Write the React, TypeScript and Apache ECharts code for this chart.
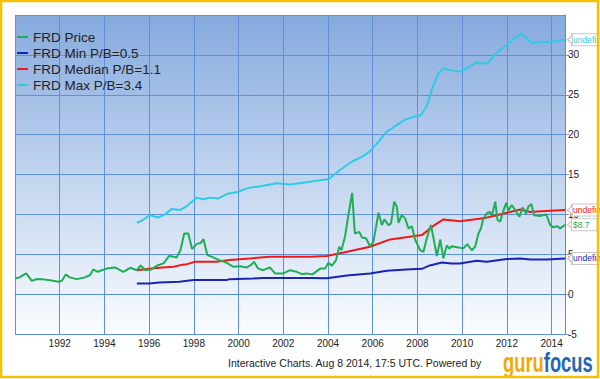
import React, { useEffect, useRef } from "react";
import * as echarts from "echarts";

// ---- data (decimal years, values in $) ----
const priceYears = [
  1990.0, 1990.2, 1990.5, 1990.75, 1991.0, 1991.27, 1991.57, 1991.94, 1992.1, 1992.27, 1992.45, 1992.76,
  1993.13, 1993.36, 1993.5, 1993.7, 1993.88, 1994.1, 1994.47, 1994.85, 1995.15, 1995.45, 1995.62, 1995.82,
  1996.1, 1996.34, 1996.64, 1996.9, 1997.23, 1997.4, 1997.57, 1997.75, 1997.92, 1998.13, 1998.3, 1998.43,
  1998.6, 1998.87, 1999.14, 1999.47, 1999.77, 2000.07, 2000.37, 2000.55, 2000.69, 2000.88, 2001.1, 2001.4,
  2001.63, 2002.0, 2002.3, 2002.6, 2002.83, 2003.05, 2003.3, 2003.65, 2003.87, 2004.02, 2004.17, 2004.36,
  2004.5, 2004.6, 2004.76, 2004.9, 2005.08, 2005.2, 2005.4, 2005.52, 2005.7, 2005.88, 2006.03, 2006.26,
  2006.41, 2006.52, 2006.7, 2006.82, 2006.96, 2007.08, 2007.15, 2007.3, 2007.45, 2007.6, 2007.75, 2007.9,
  2008.12, 2008.27, 2008.4, 2008.6, 2008.72, 2008.87, 2009.02, 2009.16, 2009.31, 2009.43, 2009.53, 2009.84,
  2010.05, 2010.23, 2010.43, 2010.58, 2010.73, 2010.84, 2010.93, 2011.04, 2011.14, 2011.25, 2011.33, 2011.48,
  2011.58, 2011.7, 2011.85, 2011.97, 2012.07, 2012.22, 2012.37, 2012.56, 2012.71, 2012.86, 2012.96, 2013.09,
  2013.22, 2013.49, 2013.76, 2013.94, 2014.09, 2014.24, 2014.39, 2014.6,
];
const priceValues = [
  1.97, 2.1, 2.6, 1.67, 1.9, 1.85, 1.75, 1.55, 1.67, 2.47, 2.1, 1.88,
  2.1, 2.4, 3.1, 2.8, 3.0, 3.2, 3.35, 2.8, 3.3, 3.0, 3.6, 3.0,
  3.1, 3.55, 3.85, 4.8, 4.6, 5.5, 7.6, 7.6, 5.65, 6.3, 6.4, 6.9,
  4.9, 4.6, 4.27, 3.93, 3.43, 3.5, 3.35, 3.64, 4.05, 3.2, 3.0, 3.35,
  2.6, 2.6, 3.0, 2.8, 2.5, 2.6, 2.47, 3.2, 3.2, 3.93, 3.55, 4.27,
  5.94, 5.5, 7.2, 9.7, 12.7, 7.6, 7.8, 7.1, 7.0, 6.0, 6.56, 10.2,
  8.66, 9.37, 8.66, 8.87, 11.6, 10.96, 8.95, 9.9, 9.5, 8.24, 8.5, 6.8,
  5.5, 5.3, 6.8, 8.66, 7.0, 4.77, 6.86, 4.5, 6.1, 5.7, 6.0, 5.86,
  5.73, 6.27, 5.5, 5.94, 7.6, 8.24, 9.3, 9.9, 10.2, 10.3, 9.8, 11.6,
  9.3, 9.07, 10.5, 11.45, 10.5, 11.17, 10.54, 9.7, 10.88, 10.1, 10.96, 11.3,
  9.9, 9.8, 10.0, 8.66, 8.37, 8.53, 8.24, 8.7,
];

const minYears = [
  1995.45, 1996.0, 1996.45, 1997.35, 1997.98, 1999.45, 1999.6, 2000.65, 2001.1, 2003.2, 2003.95, 2004.84,
  2005.88, 2006.63, 2007.5, 2008.2, 2008.55, 2009.1, 2009.5, 2009.9, 2010.65, 2011.1, 2012.0, 2012.6,
  2013.05, 2013.8, 2014.6,
];
const minValues = [
  1.34, 1.34, 1.47, 1.55, 1.76, 1.76, 1.88, 1.97, 2.02, 2.02, 2.0, 2.34,
  2.6, 2.92, 3.1, 3.17, 3.6, 3.97, 3.85, 3.85, 4.18, 4.05, 4.39, 4.48,
  4.35, 4.35, 4.48,
];

const medianYears = [
  1995.45, 1996.0, 1996.6, 1997.1, 1997.4, 1997.7, 1998.05, 1999.0, 1999.6, 2000.5, 2001.4, 2003.2,
  2003.95, 2004.7, 2005.88, 2006.78, 2008.2, 2008.7, 2009.16, 2009.9, 2010.5, 2010.95, 2011.55, 2012.0,
  2012.6, 2013.05, 2013.5, 2014.6,
];
const medianValues = [
  3.0, 3.17, 3.35, 3.43, 3.64, 3.76, 4.05, 4.05, 4.27, 4.48, 4.68, 4.68,
  4.77, 5.23, 5.94, 6.86, 7.4, 8.53, 9.37, 9.15, 9.37, 9.5, 9.9, 10.2,
  10.6, 10.3, 10.4, 10.54,
];

const maxYears = [
  1995.45, 1995.67, 1996.04, 1996.41, 1996.71, 1997.0, 1997.38, 1997.65, 1998.13, 1998.42, 1998.72, 1999.1,
  1999.47, 1999.99, 2000.37, 2001.1, 2001.7, 2002.3, 2003.2, 2003.4, 2004.02, 2004.24, 2004.54, 2005.06,
  2005.58, 2005.88, 2006.25, 2006.63, 2007.07, 2007.45, 2007.82, 2008.17, 2008.42, 2008.64, 2008.94, 2009.16,
  2009.6, 2009.9, 2010.27, 2010.64, 2010.87, 2011.16, 2011.48, 2011.85, 2012.22, 2012.64, 2013.14, 2013.41,
  2013.71, 2014.01, 2014.38, 2014.6,
];
const maxValues = [
  8.95, 9.2, 9.9, 9.6, 10.0, 10.66, 10.54, 10.96, 12.1, 11.9, 12.1, 12.0,
  12.55, 12.84, 13.26, 13.6, 13.9, 13.76, 14.1, 14.2, 14.4, 14.9, 15.56, 16.6,
  17.3, 17.94, 19.1, 20.37, 21.2, 21.9, 22.2, 22.5, 23.6, 25.6, 27.7, 28.3,
  28.0, 27.9, 28.4, 29.1, 28.9, 29.0, 30.1, 30.95, 31.8, 32.7, 31.45, 31.66,
  31.6, 31.66, 31.8, 31.9,
];

const seriesNames = ["FRD Price", "FRD Min P/B=0.5", "FRD Median P/B=1.1", "FRD Max P/B=3.4"];
const endLabelTexts = ["$8.7", "undefined", "undefined", "undefined"];
const footerText = "Interactive Charts. Aug 8 2014, 17:5 UTC. Powered by";

const colors = ["#1fae55", "#1a25b4", "#f21818", "#2ecbe6"];
const FONT = "'Liberation Sans', Arial, sans-serif";

const zip = (xs: number[], ys: number[]) => xs.map((x, i) => [x, ys[i]]);

export default function App() {
  const ref = useRef<HTMLDivElement>(null);
  useEffect(() => {
    const chart = echarts.init(ref.current!, undefined, { renderer: "svg" });
    const datasets = [
      zip(priceYears, priceValues),
      zip(minYears, minValues),
      zip(medianYears, medianValues),
      zip(maxYears, maxValues),
    ];
    chart.setOption({
      animation: false,
      textStyle: { fontFamily: FONT },
      grid: {
        left: 15,
        right: 35,
        top: 15,
        bottom: 45,
        show: true,
        borderWidth: 0,
        backgroundColor: new echarts.graphic.LinearGradient(0, 0, 0, 1, [
          { offset: 0, color: "#86aade" },
          { offset: 1, color: "#fbfdff" },
        ]),
      },
      legend: {
        orient: "vertical",
        left: 17,
        top: 29,
        padding: 0,
        itemGap: 0,
        itemWidth: 11,
        itemHeight: 2,
        icon: "rect",
        data: seriesNames,
        textStyle: { fontFamily: FONT, fontSize: 13.5, color: "#222", lineHeight: 16 },
      },
      xAxis: {
        type: "value",
        min: 1990,
        max: 2014.6,
        interval: 2,
        axisLine: { show: true, lineStyle: { color: "#5a8bd6", width: 1 } },
        axisTick: { show: false },
        axisLabel: {
          showMinLabel: false,
          showMaxLabel: false,
          fontSize: 10,
          color: "#222",
          margin: 4,
          formatter: (v: number) => String(Math.round(v)),
        },
        splitLine: { show: true, lineStyle: { color: "#5f90da", width: 1 } },
      },
      yAxis: {
        type: "value",
        position: "right",
        min: -5,
        max: 35,
        interval: 5,
        axisLine: { show: true, lineStyle: { color: "#5a8bd6", width: 1 } },
        axisTick: { show: true, length: 4, lineStyle: { color: "#7f96c0" } },
        axisLabel: { showMaxLabel: false, fontSize: 10, color: "#222", margin: 3 },
        splitLine: { show: true, lineStyle: { color: "#5f90da", width: 1 } },
      },
      series: seriesNames.map((name, i) => {
        const d = datasets[i];
        const last = d[d.length - 1];
        return {
          name,
          type: "line",
          data: d,
          symbol: "none",
          color: colors[i],
          lineStyle: { width: 2, color: colors[i] },
          z: 5 - i,
          endLabel: {
            show: true,
            formatter: endLabelTexts[i],
            color: colors[i],
            fontSize: 8.5,
            fontFamily: FONT,
            backgroundColor: "#fff",
            borderColor: "#c8c8c8",
            borderWidth: 1,
            padding: [1, 7, 1, 1],
            distance: 7,
          },
          markPoint: {
            silent: true,
            symbol: "triangle",
            symbolSize: [9, 5],
            symbolRotate: 90,
            symbolOffset: [5, 0],
            itemStyle: { color: "#fff", borderColor: "#bdbdbd", borderWidth: 1 },
            label: { show: false },
            data: [{ coord: last }],
          },
        };
      }),
      graphic: [
        {
          type: "text",
          left: 228,
          top: 357,
          style: { text: footerText, fontSize: 10.5, fill: "#222", fontFamily: FONT },
        },
        {
          type: "text",
          x: 503,
          y: 349,
          scaleX: 0.68,
          style: {
            text: "{g|guru}{f|focus}",
            rich: {
              g: { fontSize: 27, fontWeight: "bold", fill: "#f5a800", fontFamily: FONT },
              f: { fontSize: 27, fontWeight: "bold", fill: "#2167b9", fontFamily: FONT },
            },
          },
        },
        {
          type: "rect",
          z: 100,
          shape: { x: 1, y: 1, width: 597, height: 376 },
          style: { fill: "none", stroke: "#f6c200", lineWidth: 2.5 },
        },
      ],
    });
    return () => chart.dispose();
  }, []);
  return (
    <div
      ref={ref}
      style={{ position: "fixed", left: 0, top: 0, width: 600, height: 379, background: "#fff" }}
    />
  );
}
